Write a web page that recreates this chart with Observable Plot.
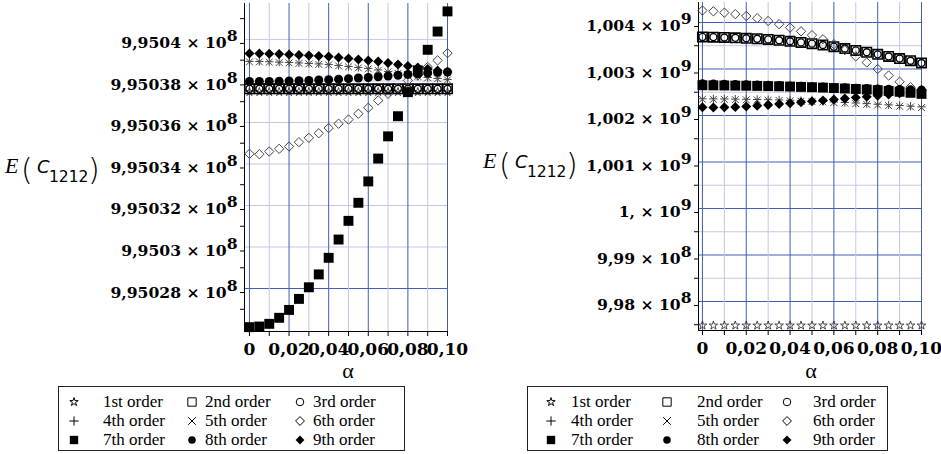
<!DOCTYPE html>
<html><head><meta charset="utf-8">
<script src="https://cdn.jsdelivr.net/npm/d3@7"></script>
<script src="https://cdn.jsdelivr.net/npm/@observablehq/plot@0.6"></script>
<style>
html,body{margin:0;padding:0;background:#fff;}
#page{position:relative;width:941px;height:454px;overflow:hidden;background:#fff;}
#page > svg{position:absolute;top:0;}
</style></head><body><div id="page"></div>
<script>
// ---------- data ----------
const alpha = [0,0.005,0.01,0.015,0.02,0.025,0.03,0.035,0.04,0.045,0.05,0.055,0.06,0.065,0.07,0.075,0.08,0.085,0.09,0.095,0.1];
const orderNames = ["1st order","2nd order","3rd order","4th order","5th order","6th order","7th order","8th order","9th order"];
const xTicks = [0,0.02,0.04,0.06,0.08,0.1];
const xMinorTicks = [0.01,0.03,0.05,0.07,0.09];

// left panel
const leftYTicks = [995028000,995030000,995032000,995034000,995036000,995038000,995040000];
const leftYMinorTicks = [995027000,995029000,995031000,995033000,995035000,995037000,995039000,995041000];
const left1 = [995037470,995037470,995037470,995037470,995037470,995037470,995037470,995037470,995037470,995037470,995037470,995037470,995037470,995037470,995037470,995037470,995037470,995037470,995037470,995037470,995037470];
const left2 = [995037620,995037620,995037620,995037620,995037620,995037620,995037620,995037620,995037620,995037620,995037620,995037620,995037620,995037620,995037620,995037620,995037620,995037620,995037620,995037620,995037620];
const left3 = [995037620,995037620,995037620,995037620,995037620,995037620,995037620,995037620,995037620,995037620,995037620,995037620,995037620,995037620,995037620,995037620,995037620,995037620,995037620,995037620,995037620];
const left4 = [995038939,995038939,995038925,995038905,995038891,995038867,995038843,995038819,995038795,995038746,995038698,995038650,995038602,995038530,995038457,995038385,995038313,995038240,995038168,995038120,995038072];
const left5 = [995038920,995038918,995038905,995038885,995038870,995038846,995038822,995038798,995038774,995038725,995038677,995038629,995038581,995038509,995038436,995038364,995038292,995038219,995038147,995038099,995038051];
const left6 = [995034490,995034470,995034600,995034730,995034840,995035050,995035260,995035480,995035730,995035940,995036140,995036420,995036710,995037060,995037380,995037670,995038020,995038260,995038670,995038990,995039340];
const left7 = [995026140,995026170,995026300,995026590,995026970,995027500,995028060,995028680,995029480,995030360,995031260,995032130,995033160,995034260,995035330,995036300,995037460,995038510,995039500,995040380,995041350];
const left8 = [995037975,995037975,995037975,995037985,995037995,995038009,995038024,995038043,995038062,995038086,995038110,995038139,995038168,995038202,995038236,995038274,995038313,995038346,995038380,995038409,995038433];
const left9 = [995039325,995039325,995039310,995039301,995039276,995039252,995039228,995039204,995039180,995039132,995039084,995039036,995038987,995038939,995038867,995038795,995038722,995038650,995038578,995038505,995038433];

// right panel
const rightYTicks = [998000000,999000000,1000000000,1001000000,1002000000,1003000000,1004000000];
const rightYMinorTicks = [997500000,998500000,999500000,1000500000,1001500000,1002500000,1003500000];
const right1 = [997484000,997484000,997484000,997484000,997484000,997484000,997484000,997484000,997484000,997484000,997484000,997484000,997484000,997484000,997484000,997484000,997484000,997484000,997484000,997484000,997484000];
const right2 = [1003690000,1003685000,1003678000,1003670000,1003660000,1003650000,1003636000,1003618000,1003596000,1003572000,1003545000,1003515000,1003480000,1003440000,1003400000,1003360000,1003315000,1003270000,1003225000,1003178000,1003130000];
const right3 = [1003690000,1003685000,1003678000,1003670000,1003660000,1003650000,1003636000,1003618000,1003596000,1003572000,1003545000,1003515000,1003480000,1003440000,1003400000,1003360000,1003315000,1003270000,1003225000,1003178000,1003130000];
const right4 = [1002360000,1002358000,1002355000,1002352000,1002348000,1002344000,1002340000,1002334000,1002328000,1002320000,1002312000,1002302000,1002292000,1002280000,1002268000,1002255000,1002242000,1002228000,1002214000,1002200000,1002185000];
const right5 = [1002350000,1002348000,1002346000,1002342000,1002338000,1002334000,1002329000,1002323000,1002316000,1002308000,1002299000,1002289000,1002278000,1002266000,1002253000,1002240000,1002226000,1002212000,1002198000,1002184000,1002170000];
const right6 = [1004258000,1004240000,1004212000,1004180000,1004140000,1004092000,1004033000,1003963000,1003890000,1003810000,1003728000,1003640000,1003535000,1003405000,1003270000,1003140000,1003000000,1002860000,1002725000,1002610000,1002540000];
const right7 = [1002650000,1002648000,1002645000,1002642000,1002640000,1002636000,1002632000,1002628000,1002622000,1002615000,1002608000,1002600000,1002590000,1002580000,1002570000,1002558000,1002544000,1002528000,1002510000,1002488000,1002465000];
const right8 = [1002680000,1002676000,1002672000,1002668000,1002662000,1002656000,1002650000,1002643000,1002636000,1002628000,1002620000,1002612000,1002604000,1002596000,1002588000,1002580000,1002572000,1002565000,1002558000,1002552000,1002546000];
const right9 = [1002175000,1002172000,1002175000,1002185000,1002195000,1002210000,1002228000,1002245000,1002265000,1002285000,1002305000,1002325000,1002345000,1002365000,1002385000,1002405000,1002425000,1002450000,1002478000,1002510000,1002540000];

// ---------- styles ----------
const BLUE = "#3f5fb5", LAV = "#c6c6e6";
const specs = [
  {symbol:"star",     fill:"none",  stroke:"#222", sw:0.8, r:2.7, lsize:22},
  {symbol:"square",   fill:"none",  stroke:"#000", sw:1.6, r:5.3, lsize:70},
  {symbol:"circle",   fill:"none",  stroke:"#000", sw:1.4, r:3.5, lsize:45},
  {symbol:"plus",     fill:"none",  stroke:"#444", sw:1,   r:2.8, lsize:30},
  {symbol:"times",    fill:"none",  stroke:"#444", sw:1,   r:3.2, lsize:40},
  {symbol:"diamond2", fill:"none",  stroke:"#444", sw:1,   r:4.2, lsize:50},
  {symbol:"square",   fill:"#000",  stroke:"none", sw:0,   r:5.6, lsize:70},
  {symbol:"circle",   fill:"#000",  stroke:"none", sw:0,   r:4.5, lsize:45},
  {symbol:"diamond2", fill:"#000",  stroke:"none", sw:0,   r:4.5, lsize:50}
];
const d3sym = {star:d3.symbolStar, square:d3.symbolSquare, circle:d3.symbolCircle, plus:d3.symbolPlus, times:d3.symbolTimes, diamond2:d3.symbolDiamond2};
const FONT = "DejaVu Serif";
const SERIF = "'Liberation Serif', 'Times New Roman', Times, 'DejaVu Serif', serif";
const XTICKSIZE = 17, YTICKSIZE = 15.6;

const xFmt = d => d === 0 ? "0" : d.toFixed(2).replace(".", ",");
const yFmt = v => {
  const e = v >= 1e9 ? 9 : 8;
  const m = (v / Math.pow(10, e)).toFixed(6).replace(/0+$/, "").replace(".", ",");
  return m + " × 10^" + e;
};

function panel(series, o) {
  const dots = series.map((vals, k) => {
    const s = specs[k];
    return Plot.dot(alpha.map((a, i) => ({a, v: vals[i]})), {
      x: "a", y: "v", symbol: s.symbol, r: s.r, fill: s.fill, stroke: s.stroke, strokeWidth: s.sw
    });
  });
  const svg = Plot.plot({
    width: o.width, height: 360,
    marginLeft: o.ml, marginRight: o.mr, marginTop: o.mt, marginBottom: 360 - o.bottom,
    x: {domain: o.xdom, label: null},
    y: {domain: o.ydom, label: null},
    style: {background: "transparent", fontFamily: FONT, fontSize: YTICKSIZE + "px", fontWeight: "bold", color: "#000", overflow: "visible"},
    marks: [
      Plot.ruleY(o.gridLight, {stroke: LAV, strokeOpacity: 1}),
      Plot.ruleY(o.gridDark, {stroke: BLUE, strokeOpacity: 1}),
      Plot.ruleX(xMinorTicks, {stroke: LAV, strokeOpacity: 1}),
      Plot.ruleX(xTicks, {stroke: BLUE, strokeOpacity: 1}),
      Plot.ruleX([o.xdom[0]], {stroke: "#000"}),
      Plot.ruleY([o.ydom[0]], {stroke: "#000"}),
      Plot.axisX(xTicks, {tickSize: 5, tickPadding: 6, tickFormat: xFmt, label: null, fontWeight: "bold", fontSize: XTICKSIZE, fontFamily: FONT}),
      Plot.axisX(xMinorTicks, {tickSize: 5, tickFormat: () => "", label: null}),
      Plot.axisY(o.yTicks, {tickSize: 4, tickPadding: 3, tickFormat: yFmt, label: null, dy: 4, fontWeight: "bold", fontSize: YTICKSIZE, fontFamily: FONT}),
      Plot.axisY(o.yMinor, {tickSize: 4, tickFormat: () => "", label: null}),
      ...dots
    ]
  });
  d3.select(svg).selectAll("text").each(function() {
    const t = this.textContent;
    if (t.indexOf("^") < 0) return;
    const [base, e] = t.split("^");
    const sel = d3.select(this);
    sel.text(null);
    sel.append("tspan").text(base);
    sel.append("tspan").attr("dy", "-0.45em").text(e);
  });
  svg.style.left = o.left + "px";
  return svg;
}

const page = document.getElementById("page");
page.appendChild(panel([left1,left2,left3,left4,left5,left6,left7,left8,left9], {
  left: 0, width: 460, ml: 244, mr: 13, mt: 3, bottom: 331,
  xdom: [-0.0025, 0.1], ydom: [995025930, 995041730],
  yTicks: leftYTicks, yMinor: leftYMinorTicks,
  gridLight: leftYTicks.filter(v => v !== 995028000), gridDark: [995028000]
}));
page.appendChild(panel([right1,right2,right3,right4,right5,right6,right7,right8,right9], {
  left: 470, width: 471, ml: 228, mr: 20, mt: 2, bottom: 330,
  xdom: [-0.0018, 0.1], ydom: [997376000, 1004430000],
  yTicks: rightYTicks, yMinor: rightYMinorTicks,
  gridLight: rightYMinorTicks.filter(v => v > 997600000), gridDark: rightYTicks
}));

// ---------- overlay: axis titles and legends ----------
const ov = d3.select(page).append("svg").attr("width", 941).attr("height", 454).style("left", "0px");

function yTitle(x0, y0) {
  const g = ov.append("g").attr("transform", `translate(${x0},${y0})`);
  g.append("text").attr("x", 0).attr("y", 7).attr("font-family", SERIF).attr("font-style", "italic").attr("font-size", 22).text("E");
  g.append("text").attr("x", 16).attr("y", 14).attr("font-family", "DejaVu Sans").attr("font-size", 30).attr("font-weight", 200).text("(");
  g.append("text").attr("x", 32).attr("y", 7).attr("font-family", "DejaVu Sans").attr("font-style", "italic").attr("font-size", 18).text("C");
  g.append("text").attr("x", 44).attr("y", 16).attr("font-family", "DejaVu Sans").attr("font-size", 15.5).text("1212");
  g.append("text").attr("x", 83).attr("y", 14).attr("font-family", "DejaVu Sans").attr("font-size", 30).attr("font-weight", 200).text(")");
}
yTitle(5, 166);
yTitle(483, 161);

ov.append("text").attr("x", 348).attr("y", 378).attr("text-anchor", "middle").attr("font-family", SERIF).attr("font-size", 22).text("α");
ov.append("text").attr("x", 811).attr("y", 378).attr("text-anchor", "middle").attr("font-family", SERIF).attr("font-size", 22).text("α");

function legend(box, symX, txtX) {
  ov.append("rect").attr("x", box[0] + 0.5).attr("y", 386.5).attr("width", box[1] - box[0]).attr("height", 64)
    .attr("fill", "#fff").attr("stroke", "#222").attr("stroke-width", 1);
  const rows = [402, 421, 440];
  orderNames.forEach((name, k) => {
    const s = specs[k], col = k % 3, row = Math.floor(k / 3);
    ov.append("path").attr("d", d3.symbol().type(d3sym[s.symbol]).size(s.lsize)())
      .attr("transform", `translate(${symX[col]},${rows[row]})`)
      .attr("fill", s.fill).attr("stroke", s.stroke === "none" ? "none" : "#000").attr("stroke-width", s.fill === "none" ? 1 : 0);
    ov.append("text").attr("x", txtX[col]).attr("y", rows[row] + 5).attr("font-family", SERIF).attr("font-size", 17).text(name);
  });
}
legend([58, 404], [74, 192, 300], [103, 205, 313]);
legend([527, 887], [551, 667, 787], [571, 697, 813]);
</script>
</body></html>
